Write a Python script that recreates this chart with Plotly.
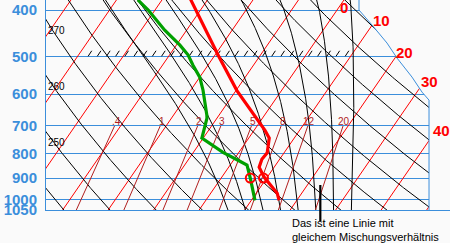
import numpy as np
import plotly.graph_objects as go

# ---------------- data ----------------
temp_p = [380, 500, 590, 675, 715, 742, 797, 822, 854, 888, 900, 968, 1002]
temp_T = [-33.8, -19.0, -9.8, -1.2, 2.4, 4.5, 6.3, 6.1, 6.7, 8.8, 9.6, 14.6, 16.1]
dew_p = [381, 400, 441, 474, 497, 522, 553, 589, 664, 674, 742, 795, 826, 845, 900, 954, 1002]
dew_T = [-45.3, -41.5, -34.8, -29.2, -25.9, -23.3, -20.0, -17.3, -12.7, -12.2, -10.3,
         -3.5, 1.0, 3.7, 6.4, 8.8, 10.8]
mark_p = [900, 900]
mark_T = [6.4, 9.3]

isobars = [400, 500, 600, 700, 800, 900, 1000, 1050]
isobar_labels = ["400", "500", "600", "700", "800", "900", "1000", "1050"]
isotherms = list(range(-120, 70, 10))
isotherm_labels = [0, 10, 20, 30, 40]
isotherm_label_p = [396, 420, 491, 566, 714]
dry_thetas = list(range(220, 400, 10))
dry_labels = [270, 260, 250]
moist_thetaw = [4, 8, 12, 16, 20, 24, 28, 32]
mix_ratios = [0.4, 1, 2, 3, 5, 8, 12, 20]
mix_labels = [".4", "1", "2", "3", "5", "8", "12", "20"]
mix_top_p = 700
mix_label_p = 686
hatch_p = 500
hatch_T = (-47.7, 8.8)
hatch_n = 29
note_text = "Das ist eine Linie mit<br>gleichem Mischungsverhältnis"

# ---------------- diagram geometry ----------------
SKEW = 31.4
P_BOT, P_TOP = 1050.0, 381.1
X_MIN, X_MAX = -35.19, 53.6
X_RIGHT = 48.99
frame_X = [33.6, 33.6, 36.46, 39.76, 41.96, 45.25, 47.45, X_RIGHT, X_RIGHT, 70, 70]
frame_p = [370, 400, 430, 469.1, 504.4, 552.8, 594.4, 617.9, 1050, 1050, 370]
pointer_X = 25.1

BG = "#fafafa"
BLUE = "#3b8edb"
RED = "#ff0000"
DRED = "#b01e1e"
GREEN = "#00a000"
FONT = "Liberation Sans, Arial, sans-serif"

def skx(T, p):
    return np.asarray(T, float) + SKEW * np.log(1000.0 / np.asarray(p, float))

def ly(p):
    return np.log10(np.asarray(p, float))

def joined(xs_list, ys_list):
    X, Y = [], []
    for xs, ys in zip(xs_list, ys_list):
        X += list(xs) + [None]
        Y += list(ys) + [None]
    return X, Y

KAPPA = 0.2857
Rd, Cp, Lv, EPS = 287.04, 1005.7, 2.501e6, 0.622

def es(Tc):
    return 6.112 * np.exp(17.67 * Tc / (Tc + 243.5))

def dTdp(p, TK):
    e = es(TK - 273.15)
    r = EPS * e / (p - e)
    return (Rd * TK + Lv * r) / (p * (Cp + Lv * Lv * r * EPS / (Rd * TK * TK)))

def rk4(T, p0, p1):
    h = p1 - p0
    k1 = dTdp(p0, T)
    k2 = dTdp(p0 + h / 2, T + h / 2 * k1)
    k3 = dTdp(p0 + h / 2, T + h / 2 * k2)
    k4 = dTdp(p1, T + h * k3)
    return T + h / 6 * (k1 + 2 * k2 + 2 * k3 + k4)

p_grid = np.concatenate([np.linspace(1050, 1000, 11), np.linspace(1000, 300, 281)[1:]])
i0 = 10

def moist(thw):
    res = np.empty_like(p_grid)
    res[i0] = thw + 273.15
    T = res[i0]
    for i in range(i0, len(p_grid) - 1):
        T = rk4(T, p_grid[i], p_grid[i + 1]); res[i + 1] = T
    T = res[i0]
    for i in range(i0, 0, -1):
        T = rk4(T, p_grid[i], p_grid[i - 1]); res[i - 1] = T
    return res - 273.15

fig = go.Figure()

# isotherms
pl = np.array([1100.0, 300.0])
xs, ys = joined([skx([t, t], pl) for t in isotherms], [ly(pl)] * len(isotherms))
fig.add_trace(go.Scatter(x=xs, y=ys, mode="lines", line=dict(color=RED, width=1), hoverinfo="skip"))

# dry adiabats
pd_ = np.linspace(1100, 300, 200)
dry_T = [th * (pd_ / 1000.0) ** KAPPA - 273.15 for th in dry_thetas]
xs, ys = joined([skx(T, pd_) for T in dry_T], [ly(pd_)] * len(dry_T))
fig.add_trace(go.Scatter(x=xs, y=ys, mode="lines", line=dict(color="black", width=1), hoverinfo="skip"))

# moist adiabats
mT = [moist(t) for t in moist_thetaw]
xs, ys = joined([skx(T, p_grid) for T in mT], [ly(p_grid)] * len(mT))
fig.add_trace(go.Scatter(x=xs, y=ys, mode="lines", line=dict(color="black", width=1), hoverinfo="skip"))

# mixing ratio lines
pm = np.linspace(P_BOT, mix_top_p, 40)
def td_from_w(w, p):
    e = w * p / (622.0 + w)
    a = np.log(e / 6.112)
    return 243.5 * a / (17.67 - a)
xs, ys = joined([skx(td_from_w(w, pm), pm) for w in mix_ratios], [ly(pm)] * len(mix_ratios))
fig.add_trace(go.Scatter(x=xs, y=ys, mode="lines", line=dict(color=DRED, width=1), hoverinfo="skip"))

# hatching on 500 hPa
hx, hy = [], []
for t in np.linspace(hatch_T[0], hatch_T[1], hatch_n):
    x0 = skx(t, hatch_p)
    hx += [x0, x0 + 0.8, None]
    hy += [ly(hatch_p), ly(hatch_p * np.exp(-5.5 / 207.2)), None]
fig.add_trace(go.Scatter(x=hx, y=hy, mode="lines", line=dict(color="black", width=1), hoverinfo="skip"))

# profiles
fig.add_trace(go.Scatter(x=skx(temp_T, temp_p), y=ly(temp_p), mode="lines",
                         line=dict(color=RED, width=3.2), hoverinfo="skip"))
fig.add_trace(go.Scatter(x=skx(dew_T, dew_p), y=ly(dew_p), mode="lines",
                         line=dict(color=GREEN, width=3.2), hoverinfo="skip"))
fig.add_trace(go.Scatter(x=skx(mark_T, mark_p), y=ly(mark_p), mode="markers",
                         marker=dict(symbol="circle-open", size=9, color=RED, line=dict(width=2, color=RED)),
                         hoverinfo="skip"))

# cut corner + frame
path = "M " + " L ".join(f"{x},{y}" for x, y in zip(frame_X, ly(frame_p))) + " Z"
fig.add_shape(type="path", path=path, xref="x", yref="y", fillcolor=BG, line=dict(width=0), layer="above")
edge = "M " + " L ".join(f"{x},{y}" for x, y in zip(frame_X[:9], ly(frame_p[:9])))
fig.add_shape(type="path", path=edge, xref="x", yref="y", line=dict(color=BLUE, width=1), layer="above")

# pointer
fig.add_shape(type="line", xref="x", yref="paper", x0=pointer_X, x1=pointer_X,
              y0=(210 - 185) / 210, y1=(210 - 221) / 210, line=dict(color="black", width=2.2))

ann = []
for t, p in zip(isotherm_labels, isotherm_label_p):
    ann.append(dict(x=float(skx(t, p)), y=float(ly(p)), text=str(t), showarrow=False, xshift=5.5,
                    font=dict(family=FONT, size=15, color=RED, weight="bold")))
for w, lab in zip(mix_ratios, mix_labels):
    ann.append(dict(x=float(skx(td_from_w(w, mix_label_p), mix_label_p)), y=float(ly(mix_label_p)),
                    text=lab, showarrow=False, font=dict(family=FONT, size=10, color=DRED)))
pp = np.linspace(1100, 300, 2000)
for th in dry_labels:
    Xa = skx(th * (pp / 1000.0) ** KAPPA - 273.15, pp)
    pc = float(np.interp(X_MIN, Xa[::-1], pp[::-1]))
    ann.append(dict(x=X_MIN, y=float(ly(pc)), text=str(th), showarrow=False, xanchor="left", yshift=-10,
                    font=dict(family=FONT, size=10, color="black")))
ann.append(dict(x=(290 - 46) / 404, y=-0.025, xref="paper", yref="paper", text=note_text, showarrow=False,
                xanchor="left", yanchor="top", align="left",
                font=dict(family=FONT, size=11, color="black")))

fig.update_layout(
    width=450, height=243, margin=dict(l=46, r=0, t=0, b=33),
    paper_bgcolor=BG, plot_bgcolor=BG, showlegend=False, annotations=ann,
    xaxis=dict(range=[X_MIN, X_MAX], showgrid=False, zeroline=False, showticklabels=False,
               showline=True, linecolor=BLUE, linewidth=1, ticks=""),
    yaxis=dict(range=[float(ly(P_BOT)), float(ly(P_TOP))], tickmode="array",
               tickvals=list(ly(isobars)), ticktext=isobar_labels,
               showgrid=True, gridcolor=BLUE, gridwidth=1, zeroline=False,
               showline=True, linecolor=BLUE, linewidth=1,
               ticks="outside", ticklen=5, tickcolor="rgba(0,0,0,0)",
               tickfont=dict(family=FONT, size=15, color=BLUE, weight="bold")),
)
fig.write_html("out.html")
